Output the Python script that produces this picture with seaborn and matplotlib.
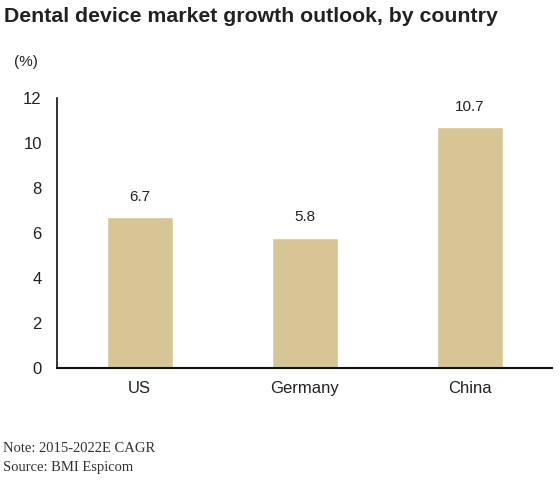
import matplotlib
matplotlib.use("Agg")
from matplotlib import pyplot as plt
import seaborn as sns

countries = ["US", "Germany", "China"]
cagr = [6.7, 5.8, 10.7]
y_ticks = [0, 2, 4, 6, 8, 10, 12]

sns.set_style("white")
plt.rcParams['font.family'] = ['Liberation Sans', 'DejaVu Sans']

fig = plt.figure(figsize=(5.6, 4.8), dpi=100)
ax = fig.add_axes([0.102, 0.233, 0.884, 0.563])

sns.barplot(x=countries, y=cagr, ax=ax, color='#D6C695', saturation=1, width=0.4)

for i, v in enumerate(cagr):
    ax.text(i, v + 0.6, f"{v}", ha='center', va='bottom', fontsize=11, color='#222222')

ax.set_ylim(0, 12)
ax.set_xlim(-0.5, 2.5)
ax.set_yticks(y_ticks)
ax.set_yticklabels([str(t) for t in y_ticks], fontsize=12, color='#222222')
ax.set_xticks([-0.5, 0.5, 1.5, 2.5], minor=False)
ax.set_xticklabels([])
ax.set_xticks([0, 1, 2], minor=True)
ax.set_xticklabels(countries, minor=True, fontsize=12, color='#222222')
ax.tick_params(axis='x', which='major', length=3, width=0.8, color='#888888', direction='out')
ax.tick_params(axis='x', which='minor', length=0, pad=9)
ax.tick_params(axis='y', length=3, width=0.8, color='#888888', direction='out', pad=8)
ax.set_xlabel('')
ax.set_ylabel('')

sns.despine(ax=ax)
ax.spines['left'].set_color('#111111')
ax.spines['left'].set_linewidth(1.2)
ax.spines['bottom'].set_color('#111111')
ax.spines['bottom'].set_linewidth(1.5)

fig.text(0.008, 0.966, "Dental device market growth outlook, by country",
         fontsize=15.3, fontweight='bold', color='#222222', va='center')
fig.text(0.025, 0.871, "(%)", fontsize=11, color='#222222', va='center')
fig.text(0.005, 0.065, "Note: 2015-2022E CAGR", fontsize=10.5, color='#333333',
         va='center', family='Liberation Serif')
fig.text(0.005, 0.027, "Source: BMI Espicom", fontsize=10.5, color='#333333',
         va='center', family='Liberation Serif')

plt.savefig("out.png", dpi=100)
